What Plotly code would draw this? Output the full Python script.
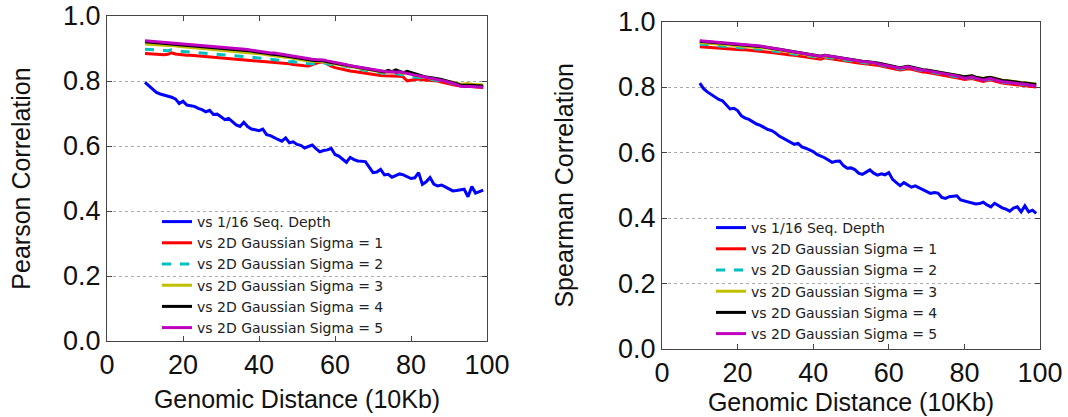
import plotly.graph_objects as go

distance = list(range(10, 100))

# ---------------- Left panel: Pearson ----------------
pearson_seq = [
    0.796, 0.785, 0.773, 0.765, 0.760, 0.757, 0.752, 0.750, 0.745, 0.731,
    0.738, 0.726, 0.724, 0.722, 0.716, 0.712, 0.705, 0.710, 0.697, 0.698,
    0.690, 0.681, 0.685, 0.676, 0.665, 0.660, 0.673, 0.660, 0.652, 0.650,
    0.647, 0.652, 0.635, 0.632, 0.625, 0.620, 0.615, 0.625, 0.610, 0.613,
    0.605, 0.602, 0.594, 0.598, 0.603, 0.592, 0.582, 0.586, 0.588, 0.593,
    0.574, 0.569, 0.560, 0.550, 0.565, 0.558, 0.554, 0.553, 0.552, 0.535,
    0.518, 0.520, 0.528, 0.511, 0.513, 0.504, 0.508, 0.514, 0.511, 0.506,
    0.500, 0.502, 0.518, 0.482, 0.490, 0.503, 0.483, 0.477, 0.480, 0.474,
    0.467, 0.462, 0.463, 0.466, 0.467, 0.444, 0.475, 0.455, 0.460, 0.464,
]
pearson_s1 = [
    .885, .884, .883, .883, .882, .881, .882, .887, .883, .881,
    .880, .879, .879, .878, .877, .876, .876, .875, .874, .873,
    .873, .872, .871, .869, .867, .867, .866, .865, .864, .862,
    .861, .860, .859, .859, .857, .856, .855, .854, .853, .851,
    .849, .848, .847, .846, .850, .854, .858, .859, .852, .846,
    .841, .838, .837, .834, .831, .829, .827, .825, .823, .821,
    .820, .818, .817, .816, .816, .817, .816, .815, .812, .800,
    .802, .805, .806, .804, .803, .803, .803, .800, .797, .794,
    .791, .788, .786, .785, .784, .783, .782, .781, .781, .780,
]
pearson_s2 = [
    .898, .897, .896, .895, .894, .894, .893, .896, .893, .892,
    .891, .890, .890, .889, .888, .887, .887, .886, .884, .884,
    .883, .882, .881, .880, .878, .878, .877, .876, .874, .872,
    .871, .870, .868, .867, .866, .864, .863, .862, .859, .860,
    .857, .855, .854, .853, .853, .854, .857, .856, .852, .850,
    .849, .847, .846, .845, .843, .840, .838, .835, .832, .830,
    .828, .826, .825, .823, .822, .822, .823, .821, .818, .814,
    .813, .812, .812, .810, .808, .806, .805, .803, .800, .797,
    .795, .792, .789, .786, .786, .787, .786, .785, .785, .784,
]
pearson_s3 = [
    .914, .913, .912, .911, .910, .909, .909, .910, .907, .906,
    .905, .904, .904, .903, .901, .900, .900, .899, .898, .897,
    .896, .895, .894, .893, .891, .891, .890, .889, .887, .885,
    .884, .883, .881, .879, .879, .877, .875, .873, .872, .871,
    .868, .865, .863, .862, .861, .861, .861, .860, .857, .855,
    .853, .851, .848, .846, .843, .841, .840, .838, .836, .834,
    .833, .830, .829, .826, .829, .826, .830, .826, .823, .826,
    .821, .818, .815, .813, .810, .809, .808, .806, .804, .801,
    .799, .796, .793, .790, .791, .792, .790, .789, .789, .788,
]
pearson_s4 = [
    .921, .920, .919, .918, .917, .916, .915, .915, .913, .912,
    .911, .910, .910, .909, .907, .906, .906, .905, .904, .903,
    .902, .901, .900, .899, .897, .896, .895, .894, .892, .890,
    .889, .888, .885, .883, .883, .881, .879, .877, .875, .874,
    .871, .868, .866, .865, .864, .863, .863, .862, .859, .857,
    .855, .853, .850, .848, .845, .843, .842, .840, .838, .836,
    .835, .832, .831, .828, .833, .829, .834, .829, .826, .830,
    .826, .822, .818, .815, .812, .811, .810, .807, .805, .802,
    .800, .796, .792, .788, .788, .789, .787, .786, .786, .785,
]
pearson_s5 = [
    .924, .923, .922, .921, .920, .919, .918, .918, .916, .915,
    .914, .913, .913, .912, .910, .909, .909, .908, .907, .906,
    .905, .904, .903, .902, .900, .899, .898, .897, .895, .893,
    .892, .891, .888, .886, .886, .884, .882, .880, .878, .877,
    .874, .871, .869, .868, .867, .866, .866, .865, .862, .860,
    .858, .856, .852, .850, .847, .845, .844, .841, .839, .837,
    .836, .833, .831, .829, .828, .829, .826, .828, .825, .822,
    .820, .818, .816, .814, .812, .810, .808, .805, .802, .799,
    .797, .793, .789, .784, .783, .784, .783, .782, .782, .781,
]

# ---------------- Right panel: Spearman ----------------
spearman_seq = [
    0.812, 0.795, 0.785, 0.778, 0.770, 0.762, 0.758, 0.747, 0.733, 0.735,
    0.728, 0.712, 0.705, 0.701, 0.694, 0.687, 0.683, 0.676, 0.670, 0.667,
    0.660, 0.650, 0.644, 0.637, 0.633, 0.625, 0.628, 0.617, 0.613, 0.609,
    0.603, 0.594, 0.590, 0.584, 0.577, 0.570, 0.573, 0.574, 0.560, 0.552,
    0.553, 0.548, 0.537, 0.533, 0.540, 0.547, 0.537, 0.531, 0.535, 0.532,
    0.539, 0.518, 0.508, 0.499, 0.508, 0.500, 0.494, 0.498, 0.492, 0.486,
    0.480, 0.475, 0.478, 0.476, 0.463, 0.460, 0.465, 0.466, 0.468, 0.455,
    0.452, 0.450, 0.448, 0.443, 0.444, 0.448, 0.440, 0.434, 0.445, 0.438,
    0.431, 0.427, 0.421, 0.430, 0.434, 0.419, 0.437, 0.419, 0.424, 0.414,
]
spearman_s1 = [
    .923, .922, .921, .921, .920, .919, .918, .918, .917, .916,
    .915, .914, .914, .913, .912, .910, .909, .908, .907, .905,
    .904, .902, .900, .899, .898, .897, .895, .894, .893, .891,
    .889, .887, .885, .889, .887, .885, .883, .881, .880, .878,
    .876, .874, .873, .872, .871, .870, .868, .866, .864, .861,
    .859, .857, .854, .852, .855, .856, .854, .851, .848, .846,
    .845, .843, .841, .839, .838, .836, .834, .832, .829, .826,
    .823, .824, .826, .823, .819, .817, .820, .821, .818, .814,
    .812, .811, .809, .808, .807, .805, .804, .803, .801, .800,
]
spearman_s2 = [
    .931, .930, .929, .928, .928, .927, .926, .925, .924, .923,
    .922, .922, .921, .920, .919, .917, .915, .914, .913, .911,
    .909, .907, .905, .903, .902, .900, .898, .897, .896, .895,
    .893, .891, .889, .892, .890, .888, .886, .884, .883, .881,
    .879, .877, .876, .875, .874, .873, .871, .869, .867, .864,
    .862, .860, .857, .855, .858, .859, .857, .854, .851, .849,
    .848, .846, .844, .842, .841, .839, .837, .835, .832, .829,
    .826, .827, .829, .826, .822, .820, .823, .824, .821, .817,
    .815, .814, .812, .811, .810, .808, .807, .806, .804, .803,
]
spearman_s3 = [
    .936, .935, .934, .933, .933, .932, .931, .930, .929, .928,
    .927, .927, .926, .925, .924, .922, .920, .919, .918, .916,
    .914, .912, .910, .908, .906, .904, .902, .900, .899, .898,
    .896, .894, .892, .895, .893, .891, .889, .887, .886, .884,
    .882, .880, .879, .878, .877, .876, .874, .872, .870, .867,
    .865, .863, .860, .858, .861, .862, .860, .857, .854, .852,
    .851, .849, .847, .846, .845, .843, .841, .839, .837, .834,
    .831, .832, .834, .831, .828, .826, .829, .830, .827, .823,
    .821, .820, .818, .817, .816, .814, .813, .812, .810, .809,
]
spearman_s4 = [
    .940, .939, .938, .937, .937, .936, .935, .934, .933, .932,
    .931, .931, .930, .929, .928, .926, .924, .922, .921, .919,
    .917, .915, .913, .911, .909, .907, .905, .903, .901, .900,
    .898, .896, .894, .897, .895, .893, .891, .889, .888, .886,
    .884, .881, .880, .879, .878, .877, .875, .873, .871, .868,
    .866, .864, .861, .859, .862, .863, .861, .858, .855, .853,
    .852, .850, .848, .847, .846, .844, .842, .840, .837, .834,
    .831, .832, .834, .830, .827, .825, .828, .829, .826, .822,
    .820, .819, .817, .816, .815, .813, .812, .811, .809, .808,
]
spearman_s5 = [
    .941, .940, .939, .938, .937, .937, .936, .935, .934, .933,
    .932, .931, .931, .930, .929, .927, .925, .923, .921, .919,
    .917, .915, .913, .911, .909, .906, .904, .903, .901, .899,
    .898, .896, .893, .897, .895, .892, .890, .888, .887, .885,
    .883, .880, .878, .878, .877, .876, .874, .871, .869, .866,
    .864, .862, .859, .857, .860, .862, .859, .856, .853, .851,
    .850, .848, .846, .844, .843, .841, .839, .837, .834, .830,
    .827, .828, .831, .827, .823, .821, .824, .826, .822, .818,
    .816, .815, .813, .812, .811, .810, .808, .807, .805, .803,
]

series_names = [
    "vs 1/16 Seq. Depth",
    "vs 2D Gaussian Sigma = 1",
    "vs 2D Gaussian Sigma = 2",
    "vs 2D Gaussian Sigma = 3",
    "vs 2D Gaussian Sigma = 4",
    "vs 2D Gaussian Sigma = 5",
]
series_colors = ["#0000ff", "#ff0000", "#00bfbf", "#bfbf00", "#000000", "#bf00bf"]
series_dash = ["solid", "solid", "dash", "solid", "solid", "solid"]

y_tick_vals = [0.0, 0.2, 0.4, 0.6, 0.8, 1.0]
y_tick_text = ["0.0", "0.2", "0.4", "0.6", "0.8", "1.0"]
x_tick_vals = [0, 20, 40, 60, 80, 100]
x_tick_text = ["0", "20", "40", "60", "80", "100"]

left_data = [pearson_seq, pearson_s1, pearson_s2, pearson_s3, pearson_s4, pearson_s5]
right_data = [spearman_seq, spearman_s1, spearman_s2, spearman_s3, spearman_s4, spearman_s5]

fig = go.Figure()
for i, ys in enumerate(left_data):
    fig.add_trace(go.Scatter(
        x=distance, y=ys, mode="lines", name=series_names[i],
        line=dict(color=series_colors[i], width=3, dash=series_dash[i]),
        xaxis="x", yaxis="y", legend="legend",
    ))
for i, ys in enumerate(right_data):
    fig.add_trace(go.Scatter(
        x=distance, y=ys, mode="lines", name=series_names[i],
        line=dict(color=series_colors[i], width=3, dash=series_dash[i]),
        xaxis="x2", yaxis="y2", legend="legend2",
    ))

W, H = 1068, 417
tick_font = dict(family="Liberation Sans, Arial, sans-serif", size=27, color="#111")
title_font = dict(family="Liberation Sans, Arial, sans-serif", size=25, color="#111")

def xaxis(domain, anchor, standoff):
    return dict(
        domain=domain, anchor=anchor, range=[0, 100], automargin=False,
        tickvals=x_tick_vals, ticktext=x_tick_text,
        ticks="inside", ticklen=5, tickcolor="#444", tickwidth=1,
        showline=True, linecolor="#444", linewidth=1, mirror="ticks",
        showgrid=False, zeroline=False, tickfont=tick_font,
        title=dict(text="Genomic Distance (10Kb)", font=title_font, standoff=standoff),
    )

def yaxis(domain, anchor, title, standoff):
    return dict(
        domain=domain, anchor=anchor, range=[0, 1], automargin=False,
        tickvals=y_tick_vals, ticktext=y_tick_text,
        ticks="inside", ticklen=5, tickcolor="#444", tickwidth=1,
        showline=True, linecolor="#444", linewidth=1, mirror="ticks",
        showgrid=True, gridcolor="#aaaaaa", griddash="dot", gridwidth=1,
        zeroline=False, tickfont=tick_font,
        title=dict(text=title, font=title_font, standoff=standoff),
    )

legend_font = dict(family="DejaVu Sans", size=14, color="#222")

fig.update_layout(
    width=W, height=H,
    margin=dict(l=0, r=0, t=0, b=0, autoexpand=False),
    paper_bgcolor="white", plot_bgcolor="white",
    showlegend=True,
    xaxis=xaxis([107 / W, 487 / W], "y", 11),
    yaxis=yaxis([1 - 341 / H, 1 - 16 / H], "x", "Pearson Correlation", 25),
    xaxis2=xaxis([662 / W, 1040 / W], "y2", 5),
    yaxis2=yaxis([1 - 349 / H, 1 - 21.5 / H], "x2", "Spearman Correlation", 37),
    legend=dict(x=157 / W, y=1 - 206 / H, xanchor="left", yanchor="top",
                bgcolor="rgba(0,0,0,0)", font=legend_font, tracegroupgap=0,
                itemwidth=30),
    legend2=dict(x=711 / W, y=1 - 212 / H, xanchor="left", yanchor="top",
                 bgcolor="rgba(0,0,0,0)", font=legend_font, tracegroupgap=0,
                 itemwidth=30),
)

fig.write_html("out.html")
